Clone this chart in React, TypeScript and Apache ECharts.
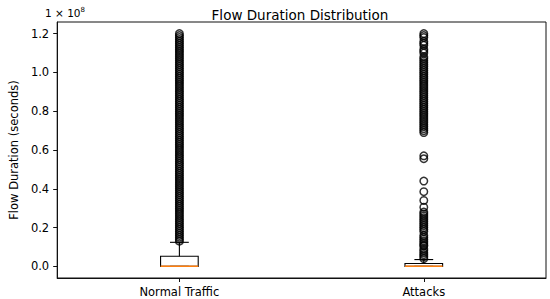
import React, { useEffect, useRef } from 'react';
import * as echarts from 'echarts';

const categories = ['Normal Traffic', 'Attacks'];
// [lowerWhisker, q1, median, q3, upperWhisker]
const normalBox = [0, 0, 0.1e6, 5.2e6, 12.4e6];
const attackBox = [0, 0, 0.05e6, 1.5e6, 3.5e6];
// outlier values, in millions
const normalOutliersM = [
  13, 14, 15, 16, 17, 18, 19, 20, 21, 22, 23, 24, 25, 26, 27, 28, 29, 30,
  31, 32, 33, 34, 35, 36, 37, 38, 39, 40, 41, 42, 43, 44, 45, 46, 47, 48,
  49, 50, 51, 52, 53, 54, 55, 56, 57, 58, 59, 60, 61, 62, 63, 64, 65, 66,
  67, 68, 69, 70, 71, 72, 73, 74, 75, 76, 77, 78, 79, 80, 81, 82, 83, 84,
  85, 86, 87, 88, 89, 90, 91, 92, 93, 94, 95, 96, 97, 98, 99, 100, 101, 102,
  103, 104, 105, 106, 107, 108, 109, 110, 111, 112, 113, 114, 115, 116, 117,
  118, 119, 120,
];
const attackOutliersM = [
  4, 5, 6, 7, 8, 9, 10.5, 11, 12, 13, 14, 15, 16, 18, 19, 20, 21, 22, 23,
  24, 25, 26, 27, 28, 30.5, 34, 38.5, 44, 55.5, 57,
  69, 70, 71, 72, 73, 74, 75, 76, 77, 78, 79, 80, 81, 82, 83, 84, 85, 86,
  87, 88, 89, 90, 91, 92, 93, 94, 95, 96, 97, 98, 99, 100, 101, 102, 103,
  104, 105, 106, 107, 108, 110, 111, 112, 114, 115, 116, 118, 119, 120,
];
const yTicks = [0, 2e7, 4e7, 6e7, 8e7, 1e8, 1.2e8];

export default function App() {
  const ref = useRef<HTMLDivElement>(null);
  useEffect(() => {
    if (!ref.current) return;
    document.body.style.margin = '0';
    const chart = echarts.init(ref.current, null, { renderer: 'svg' });
    const font = 'DejaVu Sans';
    const outlierData = [
      ...normalOutliersM.map((v) => [0, v * 1e6]),
      ...attackOutliersM.map((v) => [1, v * 1e6]),
    ];
    chart.setOption({
      animation: false,
      backgroundColor: '#fff',
      textStyle: { fontFamily: font },
      title: {
        text: 'Flow Duration Distribution',
        left: 295,
        textAlign: 'center',
        top: 3,
        textStyle: { fontFamily: font, fontSize: 13.5, fontWeight: 'normal', color: '#000' },
      },
      graphic: [
        {
          type: 'text',
          left: 45,
          top: 6,
          style: {
            text: '{a|1 × 10}{b|8}',
            rich: {
              a: { fontFamily: font, fontSize: 10.5, fill: '#000' },
              b: { fontFamily: font, fontSize: 7, fill: '#000', verticalAlign: 'top', padding: [0, 0, 6, 0] },
            },
          },
        },
      ],
      grid: {
        left: 44,
        right: 4,
        top: 22,
        bottom: 21,
        show: true,
        borderColor: '#111',
        borderWidth: 1,
        backgroundColor: 'transparent',
      },
      xAxis: {
        type: 'category',
        data: categories,
        axisLine: { show: true, onZero: false, lineStyle: { color: '#111', width: 1 } },
        axisTick: { show: true, alignWithLabel: true, length: 4, lineStyle: { color: '#111' } },
        axisLabel: { color: '#000', fontSize: 11.5, fontFamily: font, margin: 8 },
        splitLine: { show: false },
      },
      yAxis: {
        type: 'value',
        min: -6e6,
        max: 1.26e8,
        name: 'Flow Duration (seconds)',
        nameLocation: 'middle',
        nameGap: 34,
        nameTextStyle: { color: '#000', fontSize: 11.5, fontFamily: font },
        axisLine: { show: true, lineStyle: { color: '#111', width: 1 } },
        axisTick: { show: true, length: 4, lineStyle: { color: '#111' }, customValues: yTicks },
        axisLabel: {
          color: '#000',
          fontSize: 11.5,
          fontFamily: font,
          margin: 8,
          customValues: yTicks,
          formatter: (v: number) => (v / 1e8).toFixed(1),
        },
        splitLine: { show: false },
      },
      series: [
        {
          type: 'custom',
          data: [
            [0, ...normalBox],
            [1, ...attackBox],
          ],
          encode: { x: 0, y: [1, 2, 3, 4, 5] },
          renderItem: (params: any, api: any) => {
            const x = api.value(0);
            const lo = api.coord([x, api.value(1)]);
            const q1 = api.coord([x, api.value(2)]);
            const med = api.coord([x, api.value(3)]);
            const q3 = api.coord([x, api.value(4)]);
            const hi = api.coord([x, api.value(5)]);
            const band = api.size([1, 0])[0];
            const hw = band * 0.077;
            const cw = hw / 2;
            const cx = q1[0];
            const stroke = { stroke: '#000', lineWidth: 1.1, fill: 'none' };
            return {
              type: 'group',
              children: [
                { type: 'line', shape: { x1: cx, y1: q3[1], x2: cx, y2: hi[1] }, style: stroke },
                { type: 'line', shape: { x1: cx - cw, y1: hi[1], x2: cx + cw, y2: hi[1] }, style: stroke },
                { type: 'line', shape: { x1: cx, y1: q1[1], x2: cx, y2: lo[1] }, style: stroke },
                { type: 'line', shape: { x1: cx - cw, y1: lo[1], x2: cx + cw, y2: lo[1] }, style: stroke },
                {
                  type: 'rect',
                  shape: { x: cx - hw, y: q3[1], width: hw * 2, height: q1[1] - q3[1] },
                  style: { stroke: '#000', lineWidth: 1.1, fill: 'rgba(0,0,0,0)' },
                },
                {
                  type: 'line',
                  shape: { x1: cx - hw, y1: med[1], x2: cx + hw, y2: med[1] },
                  style: { stroke: '#ff7f0e', lineWidth: 1.5 },
                },
              ],
            };
          },
          z: 2,
        },
        {
          type: 'scatter',
          data: outlierData,
          symbol: 'circle',
          symbolSize: 7.5,
          itemStyle: { color: 'rgba(0,0,0,0)', borderColor: '#000', borderWidth: 1.5 },
          z: 3,
        },
      ],
    });
    return () => chart.dispose();
  }, []);
  return <div ref={ref} style={{ width: 550, height: 299 }} />;
}
